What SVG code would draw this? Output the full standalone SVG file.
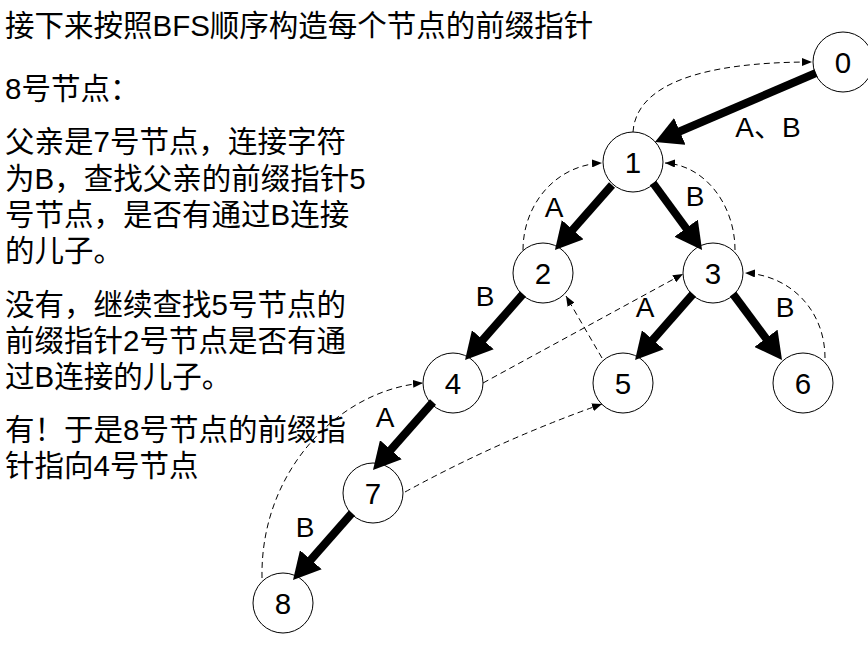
<svg xmlns="http://www.w3.org/2000/svg" width="868" height="648" viewBox="0 0 868 648">
<style>
  .t { font-family: "Liberation Sans", "Noto Sans CJK SC", sans-serif; font-size: 29.5px; fill: #000; }
  .lbl { font-family: "Liberation Sans", "Noto Sans CJK SC", sans-serif; font-size: 28px; fill: #000; text-anchor: middle; }
  .nl { font-family: "Liberation Sans", sans-serif; font-size: 29.5px; fill: #000; text-anchor: middle; }
  .node circle { fill: #fff; stroke: #000; stroke-width: 1; }
  .edge { stroke: #000; stroke-width: 8; fill: none; marker-end: url(#big); }
  .fail { stroke: #000; stroke-width: 1; fill: none; stroke-dasharray: 6 4; marker-end: url(#small); }
</style>
<defs>
  <marker id="big" markerUnits="userSpaceOnUse" markerWidth="27" markerHeight="29" viewBox="0 0 27 29" refX="1" refY="14.5" orient="auto">
    <path d="M0,0 L27,14.5 L0,29 z" fill="#000"/>
  </marker>
  <marker id="small" markerUnits="userSpaceOnUse" markerWidth="10" markerHeight="8" viewBox="0 0 10 8" refX="10" refY="4" orient="auto">
    <path d="M0,0 L10,4 L0,8 z" fill="#000"/>
  </marker>
</defs>
<rect width="868" height="648" fill="#fff"/>

<g id="text">
  <text class="t" x="5" y="36">接下来按照BFS顺序构造每个节点的前缀指针</text>
  <text class="t" x="5" y="99">8号节点：</text>
  <text class="t" x="5" y="152">父亲是7号节点，连接字符</text>
  <text class="t" x="5" y="189">为B，查找父亲的前缀指针5</text>
  <text class="t" x="5" y="225">号节点，是否有通过B连接</text>
  <text class="t" x="5" y="261">的儿子。</text>
  <text class="t" x="5" y="315">没有，继续查找5号节点的</text>
  <text class="t" x="5" y="351">前缀指针2号节点是否有通</text>
  <text class="t" x="5" y="387">过B连接的儿子。</text>
  <text class="t" x="5" y="440">有！于是8号节点的前缀指</text>
  <text class="t" x="5" y="476">针指向4号节点</text>
</g>

<g id="node-0" class="node"><circle cx="843" cy="62" r="30"/><text class="nl" x="843" y="72.5">0</text></g>
<g id="node-1" class="node"><circle cx="633" cy="162" r="30"/><text class="nl" x="633" y="172.5">1</text></g>
<g id="node-2" class="node"><circle cx="543" cy="273" r="30"/><text class="nl" x="543" y="283.5">2</text></g>
<g id="node-3" class="node"><circle cx="713" cy="273" r="30"/><text class="nl" x="713" y="283.5">3</text></g>
<g id="node-4" class="node"><circle cx="453" cy="383" r="30"/><text class="nl" x="453" y="393.5">4</text></g>
<g id="node-5" class="node"><circle cx="623" cy="383" r="30"/><text class="nl" x="623" y="393.5">5</text></g>
<g id="node-6" class="node"><circle cx="803" cy="383" r="30"/><text class="nl" x="803" y="393.5">6</text></g>
<g id="node-7" class="node"><circle cx="373" cy="493" r="30"/><text class="nl" x="373" y="503.5">7</text></g>
<g id="node-8" class="node"><circle cx="283" cy="603" r="30"/><text class="nl" x="283" y="613.5">8</text></g>

<g id="connectors">
  <line class="edge" x1="816" y1="73" x2="678.9" y2="131.8"/>
  <line class="edge" x1="612" y1="185" x2="572.1" y2="230.4"/>
  <line class="edge" x1="653" y1="183" x2="686.7" y2="229"/>
  <line class="edge" x1="523" y1="294" x2="482.2" y2="340.5"/>
  <line class="edge" x1="693" y1="294" x2="652.2" y2="340.5"/>
  <line class="edge" x1="733" y1="294" x2="766.5" y2="339.1"/>
  <line class="edge" x1="433" y1="402" x2="390.2" y2="450.5"/>
  <line class="edge" x1="352" y1="513" x2="310.2" y2="560.5"/>

  <path class="fail" d="M633,132 C636,85 700,62 812,62"/>
  <path class="fail" d="M523,250 C523,205 555,165 602,163"/>
  <path class="fail" d="M735,250 C735,205 705,165 665,163"/>
  <path class="fail" d="M825,358 C825,310 790,275 745,273"/>
  <path class="fail" d="M483,383 L683,274"/>
  <path class="fail" d="M602,358 L566,296"/>
  <path class="fail" d="M405,492 Q500,440 602,404"/>
  <path class="fail" d="M262,578 C260,470 340,390 423,383"/>

  <text class="lbl" x="768" y="137">A、B</text>
  <text class="lbl" x="554" y="217">A</text>
  <text class="lbl" x="695" y="206">B</text>
  <text class="lbl" x="485" y="306">B</text>
  <text class="lbl" x="645" y="317">A</text>
  <text class="lbl" x="785" y="317">B</text>
  <text class="lbl" x="385" y="427">A</text>
  <text class="lbl" x="305" y="537">B</text>
</g>
</svg>
